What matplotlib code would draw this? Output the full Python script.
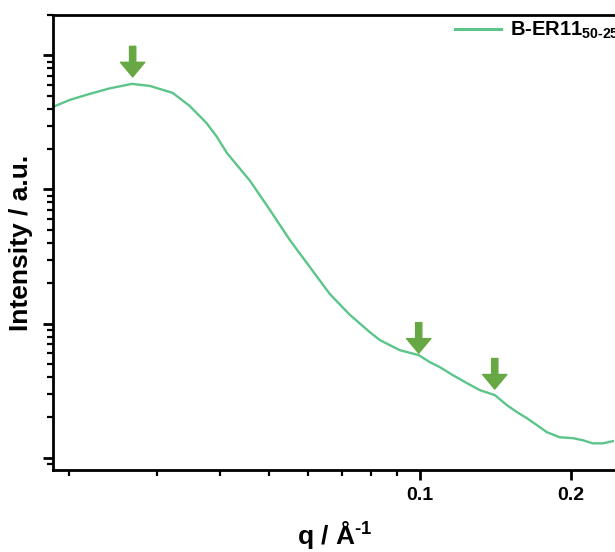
import numpy as np
import matplotlib
matplotlib.use('Agg')
import matplotlib.pyplot as plt
from matplotlib.ticker import LogLocator, NullFormatter, FixedLocator, FixedFormatter

plt.rcParams['font.family'] = ['Liberation Sans', 'DejaVu Sans']
plt.rcParams['font.weight'] = 'bold'
plt.rcParams['mathtext.fontset'] = 'custom'
plt.rcParams['mathtext.rm'] = 'Liberation Sans:bold'
plt.rcParams['mathtext.bf'] = 'Liberation Sans:bold'
plt.rcParams['mathtext.it'] = 'Liberation Sans:bold:italic'

# SAXS curve (q in 1/A, intensity in arbitrary units)
q = [0.0186, 0.0201, 0.0220, 0.0241, 0.0267, 0.0290, 0.0322, 0.0348, 0.0376,
     0.0394, 0.0413, 0.0459, 0.0503, 0.0551, 0.0604, 0.0662, 0.0726, 0.0795,
     0.0833, 0.0912, 0.0995, 0.1047, 0.1096, 0.1163, 0.1241, 0.1317, 0.1411,
     0.1490, 0.1561, 0.1634, 0.1711, 0.1791, 0.1900, 0.2017, 0.2112, 0.2211,
     0.2315, 0.2424]
intensity = [413, 466, 516, 567, 613, 592, 525, 420, 313,
             248, 187, 116, 70.3, 42.0, 26.4, 16.6, 11.6, 8.64,
             7.53, 6.34, 5.82, 5.16, 4.74, 4.13, 3.60, 3.19, 2.93,
             2.47, 2.19, 1.97, 1.75, 1.55, 1.42, 1.40, 1.35, 1.28,
             1.28, 1.33]

# arrow tips marking the peaks / shoulders
arrow_q = [0.0268, 0.0995, 0.141]
arrow_i = [691, 6.02, 3.25]

line_color = '#5cc58a'
arrow_color = '#67a844'

fig = plt.figure(figsize=(6.15, 5.52), dpi=100)
ax = fig.add_axes([53 / 615, 82 / 552, 564 / 615, 455 / 552])

ax.plot(q, intensity, color=line_color, lw=1.7, label=r'B-ER11$_{50\text{-}250}$')

for xq, yi in zip(arrow_q, arrow_i):
    ax.annotate('', xy=(xq, yi), xytext=(0, 22), textcoords='offset points',
                arrowprops=dict(arrowstyle='simple,head_length=0.75,head_width=1.25,tail_width=0.32',
                                color=arrow_color, shrinkA=0, shrinkB=0, mutation_scale=14))

ax.set_xscale('log')
ax.set_yscale('log')
ax.set_xlim(0.0186, 0.247)
ax.set_ylim(0.81, 2000)

ax.xaxis.set_major_locator(FixedLocator([0.1, 0.2]))
ax.xaxis.set_major_formatter(FixedFormatter(['0.1', '0.2']))
ax.xaxis.set_minor_locator(LogLocator(base=10, subs=np.arange(2, 10)))
ax.xaxis.set_minor_formatter(NullFormatter())
ax.yaxis.set_major_locator(LogLocator(base=10, numticks=10))
ax.yaxis.set_minor_locator(LogLocator(base=10, subs=np.arange(2, 10), numticks=10))
ax.yaxis.set_major_formatter(NullFormatter())
ax.yaxis.set_minor_formatter(NullFormatter())

for s in ax.spines.values():
    s.set_linewidth(2)
ax.tick_params(which='major', direction='out', length=7, width=2, labelsize=14, pad=5)
ax.tick_params(which='minor', direction='out', length=4, width=1.6)

ax.set_xlabel(r'q / Å$^{\text{-}1}$', fontsize=19, fontweight='bold')
ax.set_ylabel('Intensity / a.u.', fontsize=19, fontweight='bold')
ax.xaxis.set_label_coords(0.5, -0.108)
ax.yaxis.set_label_coords(-0.036, 0.5)

leg = ax.legend(loc='upper left', bbox_to_anchor=(437 / 615, 1 - 2 / 552),
                bbox_transform=fig.transFigure, frameon=False,
                handlelength=2.3, handletextpad=0.4,
                prop={'size': 14.5, 'weight': 'bold'})
for h in leg.get_lines():
    h.set_linewidth(2.2)

fig.savefig('out.png', dpi=100)
